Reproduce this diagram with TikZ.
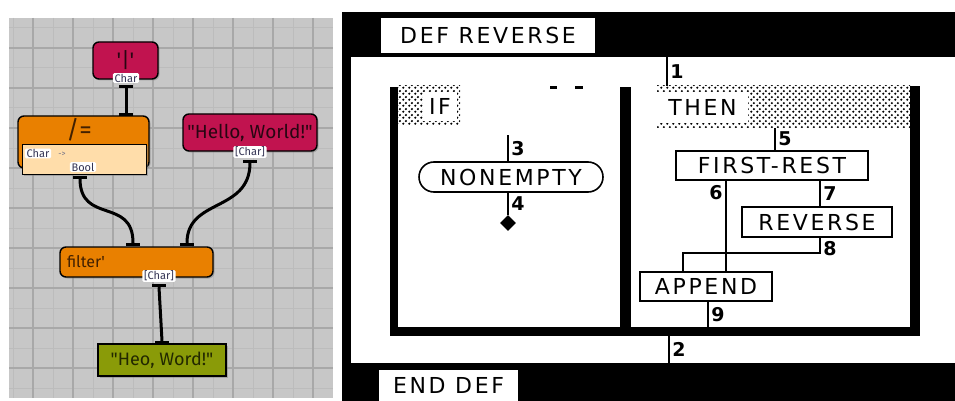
\documentclass[tikz,border=0pt]{standalone}
\usepackage{fontspec}
\setmainfont{Fira Sans}[Ligatures=TeXOff]
\newfontfamily\macfont{DejaVu Sans}[LetterSpace=12]
\newfontfamily\numfont{DejaVu Sans}
\usetikzlibrary{shapes.geometric, patterns.meta, shadows}

\definecolor{gridbg}{RGB}{199,199,199}
\definecolor{gridmn}{RGB}{188,188,188}
\definecolor{gridmj}{RGB}{168,168,168}
\definecolor{crim}{RGB}{193,19,79}
\definecolor{crimtx}{RGB}{40,6,18}
\definecolor{orng}{RGB}{233,128,0}
\definecolor{orngtx}{RGB}{66,32,0}
\definecolor{cream}{RGB}{255,221,170}
\definecolor{olive}{RGB}{138,155,8}
\definecolor{olivetx}{RGB}{34,40,0}
\definecolor{porttx}{RGB}{52,52,84}

\tikzdeclarepattern{
	name=stip,
	type=uncolored,
	bounding box={(0pt,0pt) and (6pt,6pt)},
	tile size={(6pt,6pt)},
	code={
		\pgfpathcircle{\pgfpoint{1.5pt}{1.5pt}}{1.35pt}
		\pgfpathcircle{\pgfpoint{4.5pt}{4.5pt}}{1.35pt}
		\pgfusepath{fill}
	}
}

\begin{document}
\begin{tikzpicture}[x=1pt, y=-1pt,
		blk/.style	= {draw=black, line width=1.4, inner sep=0, drop shadow={shadow xshift=1.5pt, shadow yshift=-1.5pt, opacity=.5}},
		cr/.style	= {blk, fill=crim, rounded corners=6, text=crimtx, font=\fontsize{19}{19}\selectfont},
		og/.style	= {blk, fill=orng, rounded corners=6, text=orngtx, font=\fontsize{16}{16}\selectfont},
		gn/.style	= {blk, fill=olive, text=olivetx, font=\fontsize{18}{18}\selectfont},
		crm/.style	= {blk, fill=cream, line width=0.8},
		lbl/.style	= {fill=white, rounded corners=1.5, inner xsep=1.8, inner ysep=0.8, text=porttx, font=\fontsize{11}{11}\selectfont},
		st/.style	= {fill=black, inner sep=0, minimum width=14, minimum height=3},
		w/.style	= {line width=3},
		bx/.style	= {fill=white, inner sep=0, font=\macfont\fontsize{22}{22}\selectfont},
		bb/.style	= {bx, draw=black, line width=1.6},
		ov/.style	= {bb, rounded corners=15},
		hd/.style	= {pattern=stip, pattern color=black, inner sep=0},
		dm/.style	= {diamond, fill=black, inner sep=0, minimum size=16},
		nm/.style	= {inner sep=2.5, font=\numfont\bfseries\fontsize{19}{19}\selectfont},
		v/.style	= {line width=1.8}
		]
		\useasboundingbox (0,0) rectangle (955,401);
		\fill[white] (0,0) rectangle (955,401);
		
		% === === Grid === ===
		\fill[gridbg] (9,18) rectangle (333,398);
		\foreach \x in {13,53,...,293}	\draw[gridmn, line width=1] (\x,18) -- (\x,398);
		\foreach \y in {28,68,...,388}	\draw[gridmn, line width=1] (9,\y) -- (333,\y);
		\foreach \x in {33,73,...,313}	\draw[gridmj, line width=1.2] (\x,18) -- (\x,398);
		\foreach \y in {48,88,...,368}	\draw[gridmj, line width=1.2] (9,\y) -- (333,\y);
		
		% === === Nodes === ===
		\node[cr, minimum width=65, minimum height=37, font=\fontsize{21}{21}\selectfont]	(bar)	at	(125.5, 60.5)	{'|'};
		\node[og, minimum width=131, minimum height=52]	(neq)	at	(83.5, 142)		{};
		\node[crm, minimum width=124, minimum height=30]	(neq-b)	at	(84, 159)		{};
		\node[text=orngtx, font=\fontsize{25}{25}\selectfont]	(neq-t)	at	(79, 130)	{/=};
		\node[cr, minimum width=134, minimum height=37]	(hello)	at	(250, 132.5)	{"Hello, World!"};
		\node[og, minimum width=153, minimum height=30, text width=139, align=left]	(filt)	at	(136.5, 262)	{filter'};
		\node[gn, minimum width=128, minimum height=32]	(heo)	at	(162, 360)		{"Heo, Word!"};
		
		\node[lbl]	(bar-o)		at	(126, 78)		{Char};
		\node[lbl]	(neq-i)		at	(38, 153.5)		{Char};
		\node[text=porttx!70, font=\fontsize{8}{8}\selectfont]	(neq-a)	at	(62, 154)	{->};
		\node[lbl]	(neq-o)		at	(83, 167)		{Bool};
		\node[lbl]	(hello-o)	at	(250, 152)		{[Char]};
		\node[lbl]	(filt-o)	at	(159, 276)		{[Char]};
		
		\node[st]	(bar-s)		at	(126, 86.5)		{};
		\node[st]	(neq-s)		at	(126, 114.5)	{};
		\node[st]	(neq-os)	at	(80, 177)		{};
		\node[st]	(hello-s)	at	(250, 161)		{};
		\node[st]	(filt-s1)	at	(133, 244.5)	{};
		\node[st]	(filt-s2)	at	(187, 244.5)	{};
		\node[st]	(filt-os)	at	(159, 285.5)	{};
		\node[st]	(heo-s)		at	(162, 342.5)	{};
		
		% === === Lines === ===
		\draw[w]	(bar-s.south)	--	(neq-s.north);
		\draw[w]	(neq-os.south)	..	controls +(0, 46) and +(0, -46) ..	(filt-s1.north);
		\draw[w]	(hello-s.south)	..	controls +(0, 50) and +(0, -45) ..	(filt-s2.north);
		\draw[w]	(filt-os.south)	--	(heo-s.north);
		
		% === === Frame === ===
		\fill (342,12) rectangle (955,401);
		\fill[white] (351,57) rectangle (955,363);
		\fill (390,87) rectangle (398,336);
		\fill (390,327) rectangle (920,336);
		\fill (620,87) rectangle (631,336);
		\fill (910,86) rectangle (920,336);
		\fill (550,86) rectangle (557,89);
		\fill (575,86) rectangle (583,89);
		
		\node[bx, minimum width=214, minimum height=35]	(def)	at	(488, 35.5)		{DEF REVERSE};
		\node[bx, minimum width=139, minimum height=31]	(end)	at	(448.5, 385.5)	{END DEF};
		\node[hd, minimum width=62, minimum height=40]	(ifhd)	at	(429, 106)		{};
		\node[bx, minimum width=34, minimum height=29]	(if)	at	(440, 106.5)	{IF};
		\node[hd, minimum width=253, minimum height=42]	(thenhd)	at	(783.5, 107)	{};
		\node[bx, minimum width=91, minimum height=31]	(then)	at	(702.5, 107.5)	{THEN};
		
		\node[ov, minimum width=184, minimum height=30]	(nonempty)	at	(511, 177)	{NONEMPTY};
		\node[dm]	(diam)	at	(508, 223)	{};
		\node[bb, minimum width=192, minimum height=29]	(fr)	at	(772, 165.5)	{FIRST-REST};
		\node[bb, minimum width=150, minimum height=30]	(rev)	at	(817, 222)		{REVERSE};
		\node[bb, minimum width=132, minimum height=29]	(app)	at	(706, 286.5)	{APPEND};
		
		\coordinate	(t1)	at	(667, 57);
		\coordinate	(t3)	at	(508, 135);
		\coordinate	(t9)	at	(708, 327);
		\coordinate	(t2)	at	(669, 336);
		\coordinate	(b2)	at	(669, 363);
		
		\draw[v]	(t1)	--	node[nm, right]	{1}	(t1 |- thenhd.north);
		\draw[v]	(t3)	--	node[nm, right]	{3}	(t3 |- nonempty.north);
		\draw[v]	(t3 |- nonempty.south)	--	node[nm, right]	{4}	(diam.north);
		\draw[v]	([xshift=3pt]fr.north |- thenhd.south)	--	node[nm, right]	{5}	([xshift=3pt]fr.north);
		\draw[v]	([xshift=-46pt]fr.south)	--	node[nm, left, pos=.13]	{6}	([xshift=20pt]app.north);
		\draw[v]	([xshift=48pt]fr.south)	--	node[nm, right]	{7}	([xshift=3pt]rev.north);
		\draw[v]	([xshift=3pt]rev.south)	--	node[nm, right, pos=.7]	{8}	++(0,15)	-|	([xshift=-23pt]app.north);
		\draw[v]	([xshift=2pt]app.south)	--	node[nm, right]	{9}	(t9);
		\draw[v]	(t2)	--	node[nm, right]	{2}	(b2);
		
	\end{tikzpicture}
\end{document}
